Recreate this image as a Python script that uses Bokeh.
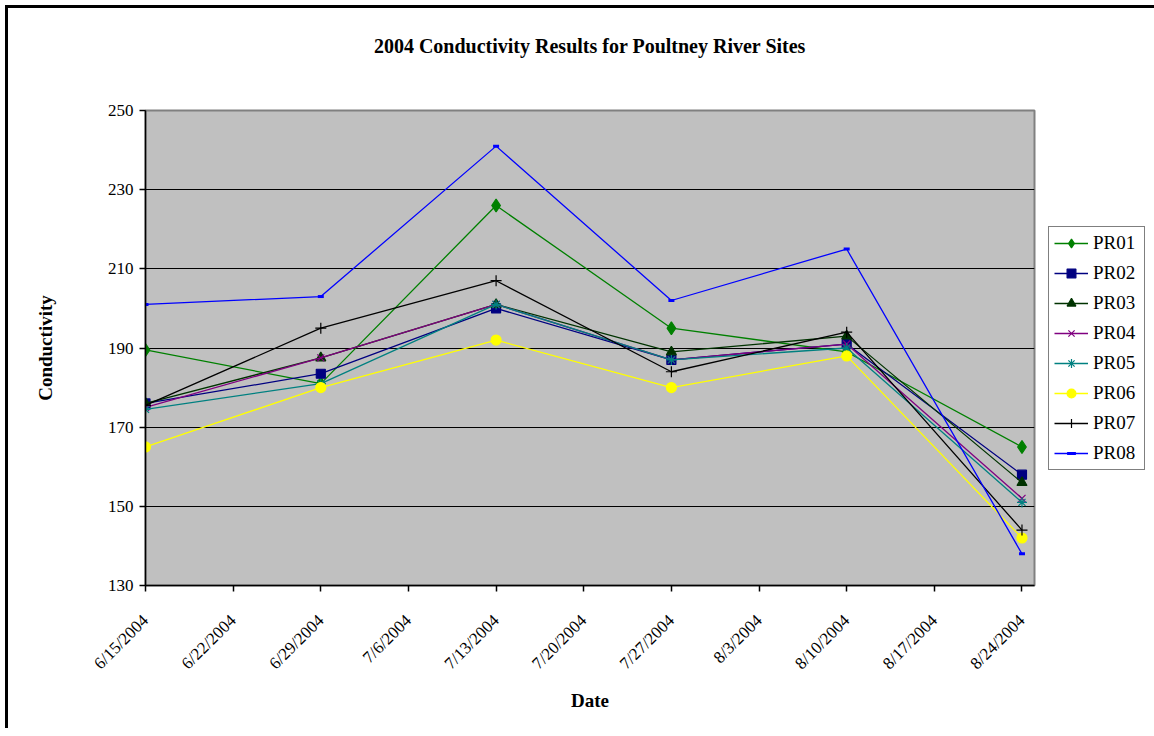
import datetime as dt
from bokeh.plotting import figure
from bokeh.models import (Range1d, FixedTicker, Legend, LegendItem, Title)
from bokeh.embed import file_html
from bokeh.resources import INLINE

# ---- data ----
dates = ["2004-06-15", "2004-06-29", "2004-07-13", "2004-07-27", "2004-08-10", "2004-08-24"]
PR01 = [189.5, 181, 226, 195, 189, 165]
PR02 = [176, 183.5, 200, 187, 191, 158]
PR03 = [176, 187.5, 201, 189, 193, 156]
PR04 = [175, 187.5, 201, 187, 191, 152]
PR05 = [174.5, 181, 201, 187, 190, 151]
PR06 = [165, 180, 192, 180, 188, 142]
PR07 = [175.5, 195, 207, 184, 194, 144]
PR08 = [201, 203, 241, 202, 215, 138]
tick_dates = ["2004-06-15", "2004-06-22", "2004-06-29", "2004-07-06", "2004-07-13", "2004-07-20",
              "2004-07-27", "2004-08-03", "2004-08-10", "2004-08-17", "2004-08-24"]
tick_labels = ["6/15/2004", "6/22/2004", "6/29/2004", "7/6/2004", "7/13/2004", "7/20/2004",
               "7/27/2004", "8/3/2004", "8/10/2004", "8/17/2004", "8/24/2004"]
y_ticks = [130, 150, 170, 190, 210, 230, 250]
title_text = "2004 Conductivity Results for Poultney River Sites"

def ms(s):
    d = dt.datetime.strptime(s, "%Y-%m-%d")
    return (d - dt.datetime(1970, 1, 1)).total_seconds() * 1000.0

xs = [dt.datetime.strptime(s, "%Y-%m-%d") for s in dates]
tick_ms = [ms(s) for s in tick_dates]

FONT = "Liberation Serif"

p = figure(frame_width=889, frame_height=475, x_axis_type="datetime",
           x_range=Range1d(dt.datetime(2004, 6, 15), dt.datetime(2004, 8, 25)),
           y_range=Range1d(130, 250),
           output_backend="svg", toolbar_location=None,
           min_border_left=145, min_border_right=112,
           min_border_top=134, min_border_bottom=143)
# outer chart border (top and left edges only are inside the picture), drawn as a
# CSS background behind a transparent canvas border area
p.styles = {
    "margin-top": "-24px",
    "background": ("linear-gradient(#000, #000) 5px 29px / 100% 3px no-repeat, "
                   "linear-gradient(#000, #000) 5px 29px / 3px 100% no-repeat"),
}

p.background_fill_color = "#C0C0C0"
p.border_fill_color = "white"
p.border_fill_alpha = 0
p.outline_line_color = "#808080"
p.outline_line_width = 2

# title
t = Title(text=title_text, align="center",
          text_font=FONT, text_font_size="20px", text_font_style="bold",
          text_color="black", standoff=108)
p.add_layout(t, "above")

# axes
p.xaxis.ticker = FixedTicker(ticks=tick_ms)
p.xaxis.major_label_overrides = {tm: lab for tm, lab in zip(tick_ms, tick_labels)}
p.xaxis.major_label_orientation = 0.785398
p.xaxis.axis_label = "Date"
p.yaxis.axis_label = "Conductivity"
p.yaxis.ticker = FixedTicker(ticks=y_ticks)
for ax in (p.xaxis[0], p.yaxis[0]):
    ax.axis_line_color = "black"
    ax.axis_line_width = 1.5
    ax.major_tick_line_color = "black"
    ax.major_tick_line_width = 1.5
    ax.major_tick_in = 0
    ax.major_tick_out = 6
    ax.minor_tick_line_color = None
    ax.major_label_text_font = FONT
    ax.major_label_text_font_size = "17px"
    ax.major_label_text_color = "black"
    ax.axis_label_text_font = FONT
    ax.axis_label_text_font_size = "19px"
    ax.axis_label_text_font_style = "bold"
    ax.axis_label_text_color = "black"
p.yaxis.major_label_standoff = 6
p.yaxis.axis_label_standoff = 49
p.xaxis.major_label_standoff = 26
p.xaxis.axis_label_standoff = 7

p.xgrid.grid_line_color = None
p.ygrid.grid_line_color = "black"
p.ygrid.grid_line_width = 1
p.ygrid.ticker = FixedTicker(ticks=y_ticks)

series = [
    ("PR01", PR01, "#008000", "diamond", 13, "#008000"),
    ("PR02", PR02, "#000080", "square", 9, "#000080"),
    ("PR03", PR03, "#003300", "triangle", 10, "#003300"),
    ("PR04", PR04, "#800080", "x", 10, "#800080"),
    ("PR05", PR05, "#008080", "asterisk", 10, "#008080"),
    ("PR06", PR06, "#FFFF00", "circle", 10, "#FFFF00"),
    ("PR07", PR07, "#000000", "cross", 11, "#000000"),
    ("PR08", PR08, "#0000FF", "dash", 6, "#0000FF"),
]

items = []
for name, vals, col, mk, sz, mcol in series:
    lr = p.line(xs, vals, line_color=col, line_width=1.3)
    lw = 3 if mk == "dash" else 1.2
    sr = p.scatter(xs, vals, marker=mk, size=sz, fill_color=mcol, line_color=mcol, line_width=lw)
    items.append(LegendItem(label=name, renderers=[lr, sr]))

legend = Legend(items=items, location="left", orientation="vertical",
                label_text_font=FONT, label_text_font_size="19px", label_text_color="black",
                glyph_width=34, glyph_height=22, label_height=22, label_width=46,
                label_standoff=5, spacing=8, padding=5, margin=14,
                border_line_color="black", border_line_width=1.5,
                background_fill_color="white", background_fill_alpha=1.0)
p.add_layout(legend, "right")

open("out.html", "w").write(file_html(p, INLINE))
